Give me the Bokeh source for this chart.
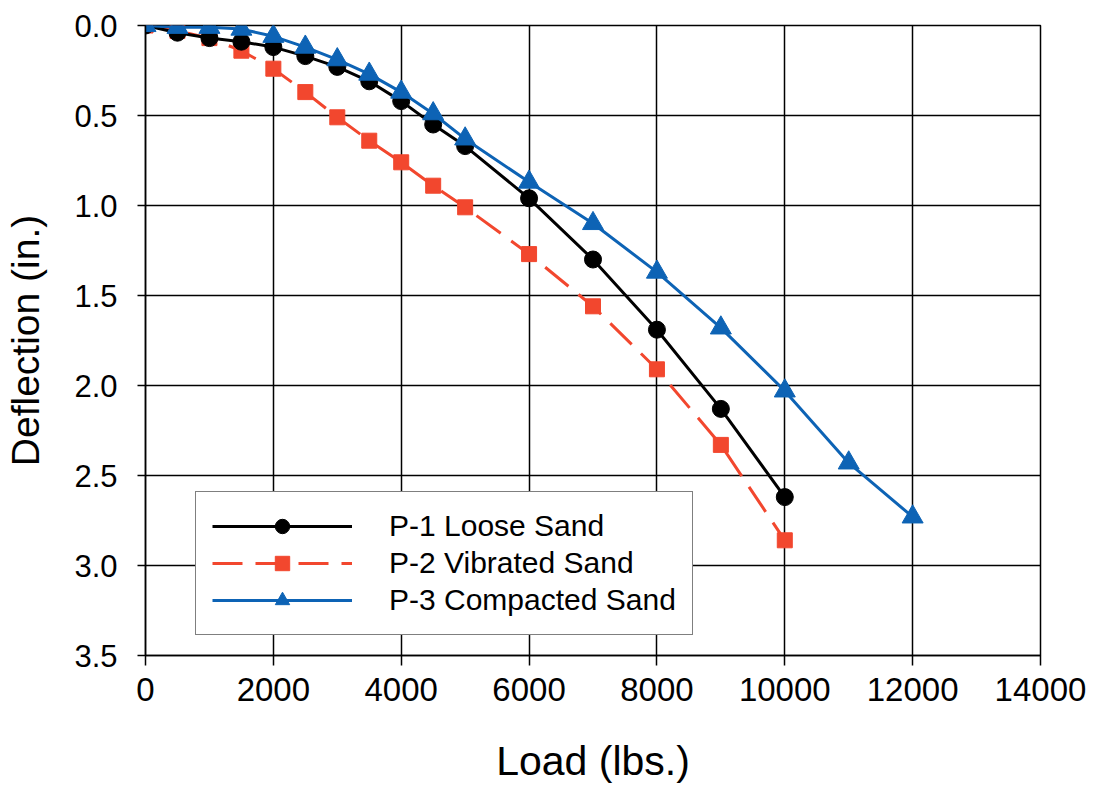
from bokeh.plotting import figure
from bokeh.models import Range1d, Legend, LegendItem, FixedTicker
from bokeh.embed import file_html
from bokeh.resources import INLINE

loads_p1 = [0, 500, 1000, 1500, 2000, 2500, 3000, 3500, 4000, 4500, 5000, 6000, 7000, 8000, 9000, 10000]
defl_p1 = [0, 0.04, 0.07, 0.09, 0.12, 0.17, 0.23, 0.31, 0.42, 0.55, 0.67, 0.96, 1.30, 1.69, 2.13, 2.62]

loads_p2 = [0, 500, 1000, 1500, 2000, 2500, 3000, 3500, 4000, 4500, 5000, 6000, 7000, 8000, 9000, 10000]
defl_p2 = [0, 0.03, 0.07, 0.14, 0.24, 0.37, 0.51, 0.64, 0.76, 0.89, 1.01, 1.27, 1.56, 1.91, 2.33, 2.86]

loads_p3 = [0, 500, 1000, 1500, 2000, 2500, 3000, 3500, 4000, 4500, 5000, 6000, 7000, 8000, 9000, 10000, 11000, 12000]
defl_p3 = [0, 0.01, 0.01, 0.02, 0.06, 0.12, 0.19, 0.27, 0.37, 0.49, 0.63, 0.87, 1.10, 1.37, 1.68, 2.03, 2.43, 2.73]

series_names = ["P-1 Loose Sand", "P-2 Vibrated Sand", "P-3 Compacted Sand"]
x_ticks = [0, 2000, 4000, 6000, 8000, 10000, 12000, 14000]
y_ticks = [0.0, 0.5, 1.0, 1.5, 2.0, 2.5, 3.0, 3.5]

FONT = "Liberation Sans"
RED = "#f2472e"
BLUE = "#0d63b5"

p = figure(width=1093, height=790, output_backend="svg", toolbar_location=None,
           x_range=Range1d(0, 14000), y_range=Range1d(3.5, 0),
           min_border_left=145, min_border_right=53, min_border_top=25, min_border_bottom=135)

p.background_fill_color = "white"
p.border_fill_color = "white"
p.outline_line_color = "black"
p.outline_line_width = 1.5

p.xaxis.ticker = FixedTicker(ticks=x_ticks)
p.yaxis.ticker = FixedTicker(ticks=y_ticks)
p.yaxis.major_label_overrides = {v: f"{v:.1f}" for v in y_ticks}
p.xaxis.major_label_overrides = {v: str(v) for v in x_ticks}

for ax in (p.xaxis[0], p.yaxis[0]):
    ax.axis_line_color = "black"
    ax.axis_line_width = 1.5
    ax.major_tick_line_color = "black"
    ax.major_tick_line_width = 1.5
    ax.major_tick_in = 0
    ax.minor_tick_line_color = None
    ax.major_label_text_font = FONT
    ax.major_label_text_color = "black"
    ax.axis_label_text_font = FONT
    ax.axis_label_text_font_style = "normal"
    ax.axis_label_text_color = "black"

p.xaxis.major_label_text_font_size = "33px"
p.yaxis.major_label_text_font_size = "31px"
p.xaxis.major_tick_out = 10
p.yaxis.major_tick_out = 8
p.xaxis.major_label_standoff = 12
p.yaxis.major_label_standoff = 20
p.xaxis.axis_label = "Load (lbs.)"
p.yaxis.axis_label = "Deflection (in.)"
p.xaxis.axis_label_text_font_size = "41px"
p.yaxis.axis_label_text_font_size = "39px"
p.xaxis.axis_label_standoff = 34
p.yaxis.axis_label_standoff = 24

p.xgrid.grid_line_color = "black"
p.ygrid.grid_line_color = "black"
p.xgrid.grid_line_width = 1.5
p.ygrid.grid_line_width = 1.5

l2 = p.line(loads_p2, defl_p2, line_color=RED, line_width=3, line_dash="30 13")
s2 = p.scatter(loads_p2, defl_p2, marker="square", size=15, fill_color=RED, line_color=RED)
l1 = p.line(loads_p1, defl_p1, line_color="black", line_width=3)
s1 = p.scatter(loads_p1, defl_p1, marker="circle", size=17, fill_color="black", line_color="black")
l3 = p.line(loads_p3, defl_p3, line_color=BLUE, line_width=3)
s3 = p.scatter(loads_p3, defl_p3, marker="triangle", size=21, fill_color=BLUE, line_color=BLUE)

legend = Legend(items=[
    LegendItem(label=series_names[0], renderers=[l1, s1]),
    LegendItem(label=series_names[1], renderers=[l2, s2]),
    LegendItem(label=series_names[2], renderers=[l3, s3]),
], location=(50, 20))
legend.glyph_width = 140
legend.glyph_height = 36
legend.label_standoff = 37
legend.label_text_font = FONT
legend.label_text_font_size = "30px"
legend.label_text_color = "black"
legend.label_height = 30
legend.spacing = 1
legend.padding = 16
legend.margin = 0
legend.border_line_color = "black"
legend.border_line_width = 1.5
legend.background_fill_alpha = 1.0
p.add_layout(legend, "center")

open("out.html", "w").write(file_html(p, INLINE))
